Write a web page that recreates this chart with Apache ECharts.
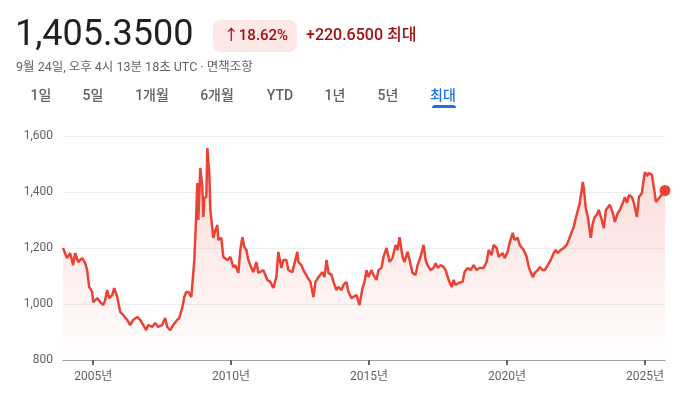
<!DOCTYPE html>
<html>
<head>
<meta charset="utf-8">
<script src="https://cdn.jsdelivr.net/npm/echarts@6/dist/echarts.min.js"></script>
<style>
html,body{margin:0;padding:0;background:#fff;}
#c{width:692px;height:396px;}
</style>
</head>
<body>
<div id="c"></div>
<script>
// ---- data ----
const dates = [
'2003-11-28','2004-01-20','2004-03-01','2004-04-10','2004-05-07','2004-06-16','2004-08-08','2004-09-17','2004-10-13','2004-11-08',
'2004-12-18','2005-01-01','2005-02-23','2005-04-04','2005-05-13','2005-06-09','2005-07-05','2005-08-01','2005-09-10','2005-10-06',
'2005-11-15','2005-12-25','2006-02-02','2006-03-27','2006-05-05','2006-06-14','2006-08-06','2006-09-15','2006-10-25','2006-12-04',
'2006-12-30','2007-02-21','2007-04-02','2007-05-11','2007-07-03','2007-08-12','2007-09-08','2007-10-18','2007-11-26','2008-01-18',
'2008-02-14','2008-03-25','2008-04-21','2008-05-17','2008-06-13','2008-07-23','2008-08-18','2008-09-01','2008-09-27','2008-10-10',
'2008-10-24','2008-11-19','2008-12-16','2008-12-29','2009-01-11','2009-02-07','2009-02-20','2009-03-18','2009-04-01','2009-04-27',
'2009-05-10','2009-06-06','2009-07-02','2009-07-15','2009-08-24','2009-09-20','2009-10-16','2009-11-12','2009-12-22','2010-01-30',
'2010-02-26','2010-04-07','2010-05-03','2010-05-30','2010-06-25','2010-07-22','2010-08-17','2010-09-26','2010-10-23','2010-12-01',
'2010-12-28','2011-01-23','2011-03-04','2011-04-26','2011-06-04','2011-07-14','2011-08-23','2011-09-18','2011-10-28','2011-11-23',
'2012-01-02','2012-01-29','2012-03-22','2012-04-17','2012-05-27','2012-06-10','2012-07-19','2012-08-15','2012-10-07','2012-11-16',
'2012-12-26','2013-01-22','2013-03-03','2013-04-25','2013-05-21','2013-06-17','2013-07-13','2013-08-22','2013-09-17','2013-10-27',
'2013-11-22','2014-01-01','2014-01-28','2014-03-08','2014-04-04','2014-05-14','2014-06-09','2014-07-19','2014-08-28','2014-10-07',
'2014-11-02','2014-11-29','2014-12-25','2015-02-03','2015-03-01','2015-04-10','2015-05-07','2015-06-15','2015-07-12','2015-08-21',
'2015-09-16','2015-09-29','2015-11-08','2015-12-18','2016-01-13','2016-02-09','2016-03-20','2016-04-15','2016-05-25','2016-06-21',
'2016-07-30','2016-09-08','2016-10-05','2016-11-13','2016-12-23','2017-01-19','2017-02-14','2017-03-26','2017-05-05','2017-06-01',
'2017-06-27','2017-08-06','2017-09-15','2017-10-11','2017-11-20','2017-12-30','2018-01-25','2018-02-21','2018-04-01','2018-05-23',
'2018-06-19','2018-07-29','2018-09-07','2018-10-17','2018-11-26','2019-01-04','2019-02-26','2019-04-07','2019-05-04','2019-06-12',
'2019-07-09','2019-08-18','2019-09-13','2019-11-05','2019-12-01','2020-01-10','2020-02-06','2020-03-17','2020-04-12','2020-05-22',
'2020-06-18','2020-07-01','2020-08-10','2020-09-19','2020-10-16','2020-12-08','2021-01-03','2021-02-12','2021-03-11','2021-04-19',
'2021-05-16','2021-06-24','2021-08-03','2021-09-12','2021-10-09','2021-11-04','2021-12-14','2022-01-22','2022-03-03','2022-03-30',
'2022-05-08','2022-06-04','2022-07-01','2022-07-27','2022-08-23','2022-10-02','2022-10-15','2022-11-10','2022-12-07','2023-01-15',
'2023-02-11','2023-03-09','2023-04-05','2023-05-01','2023-06-10','2023-07-07','2023-08-03','2023-08-29','2023-09-25','2023-11-03',
'2023-11-30','2024-01-08','2024-02-04','2024-03-15','2024-04-10','2024-05-07','2024-06-03','2024-07-12','2024-08-08','2024-09-17',
'2024-10-14','2024-11-22','2024-12-19','2025-01-01','2025-01-27','2025-02-23','2025-04-04','2025-05-01','2025-05-27','2025-06-22',
'2025-07-19','2025-08-27','2025-09-24'
];
const values = [
1200,1164,1182,1139,1182,1150,1164,1146,1121,1061,
1043,1007,1021,1007,996,1014,1050,1021,1032,1057,
1025,971,961,943,925,943,954,943,925,907,
925,918,932,918,925,950,918,907,925,943,
950,986,1025,1043,1043,1025,1111,1157,1325,1432,
1300,1486,1418,1311,1379,1382,1557,1468,1336,1329,
1236,1264,1282,1229,1236,1168,1175,1157,1168,1132,
1139,1111,1193,1239,1204,1193,1157,1129,1114,1150,
1111,1114,1121,1086,1079,1057,1096,1186,1129,1157,
1157,1121,1114,1121,1186,1150,1139,1121,1096,1079,
1025,1079,1096,1114,1096,1157,1111,1104,1079,1050,
1061,1050,1068,1079,1043,1021,1021,1032,996,1057,
1079,1121,1096,1121,1104,1086,1121,1129,1168,1200,
1168,1150,1164,1211,1193,1239,1168,1150,1186,1157,
1111,1104,1139,1168,1211,1157,1139,1121,1129,1146,
1129,1139,1132,1121,1086,1061,1086,1068,1075,1079,
1114,1129,1121,1139,1121,1129,1129,1150,1193,1175,
1211,1200,1168,1182,1164,1186,1218,1254,1229,1236,
1211,1204,1193,1168,1132,1096,1111,1121,1132,1121,
1121,1139,1157,1182,1193,1182,1193,1200,1211,1229,
1257,1275,1307,1311,1361,1436,1414,1343,1311,1236,
1289,1311,1318,1336,1300,1271,1336,1343,1354,1325,
1293,1325,1336,1361,1382,1361,1389,1382,1361,1311,
1382,1396,1450,1471,1457,1468,1461,1414,1364,1364,
1382,1396,1405.35
];
const yTicks = [800, 1000, 1200, 1400, 1600];
const yearTicks = [2005, 2010, 2015, 2020, 2025];
const headerPrice = '1,405.3500';
const headerPct = '↑18.62%';
const headerChange = '+220.6500 최대';
const subtitle = '9월 24일, 오후 4시 13분 18초 UTC · 면책조항';
const tabs = ['1일','5일','1개월','6개월','YTD','1년','5년','최대'];

// ---- chart ----
const FONT = 'Roboto, "Noto Sans CJK KR", sans-serif';
const RED = '#ea4335';
const toTs = s => { const p = s.split('-').map(Number); return Date.UTC(p[0], p[1] - 1, p[2]); };
const chart = echarts.init(document.getElementById('c'), null, {renderer: 'canvas'});
const seriesData = dates.map((d, i) => [toTs(d), values[i]]);
const last = seriesData[seriesData.length - 1];
const yearTs = yearTicks.map(y => Date.UTC(y, 0, 1));

const tabX = [41, 93, 152, 217, 280, 335, 388, 443];
const graphics = [
  {type: 'text', left: 15, top: 18, style: {text: headerPrice, font: '400 36px ' + FONT, fill: '#202124'}},
  {type: 'rect', shape: {x: 213, y: 20, width: 84, height: 32, r: 8}, style: {fill: '#fce8e6'}},
  {type: 'text', x: 256, y: 36, style: {text: headerPct, font: '500 15px ' + FONT, fill: '#a50e0e', align: 'center', verticalAlign: 'middle'}},
  {type: 'text', x: 306, y: 36, style: {text: headerChange, font: '500 16px ' + FONT, fill: '#a50e0e', align: 'left', verticalAlign: 'middle'}},
  {type: 'text', x: 16, y: 68, style: {text: subtitle, font: '400 12.5px ' + FONT, fill: '#5f6368', align: 'left', verticalAlign: 'middle'}},
  {type: 'rect', shape: {x: 432, y: 105, width: 24, height: 3, r: [3, 3, 0, 0]}, style: {fill: '#1a73e8'}}
];
tabs.forEach((t, i) => {
  const active = i === tabs.length - 1;
  graphics.push({type: 'text', x: tabX[i], y: 96, style: {
    text: t, font: '500 14px ' + FONT, fill: active ? '#1a73e8' : '#5f6368',
    align: 'center', verticalAlign: 'middle'}});
});

chart.setOption({
  animation: false,
  backgroundColor: '#fff',
  grid: {left: 63, right: 27, top: 136, bottom: 36, containLabel: false},
  xAxis: {
    type: 'value',
    min: toTs(dates[0]),
    max: toTs(dates[dates.length - 1]),
    scale: true,
    axisLine: {show: true, lineStyle: {color: '#9aa0a6', width: 1}},
    axisTick: {show: true, length: 5, lineStyle: {color: '#5f6368', width: 2}, customValues: yearTs},
    axisLabel: {
      customValues: yearTs,
      formatter: v => new Date(v).getUTCFullYear() + '년',
      color: '#5f6368', fontSize: 12, fontFamily: FONT, margin: 11
    },
    splitLine: {show: false}
  },
  yAxis: {
    type: 'value',
    min: yTicks[0], max: yTicks[yTicks.length - 1], interval: 200,
    axisLine: {show: false}, axisTick: {show: false},
    axisLabel: {formatter: v => v.toLocaleString('en-US'), color: '#5f6368', fontSize: 12, fontFamily: FONT, margin: 10},
    splitLine: {show: true, lineStyle: {color: '#eceef0', width: 1}}
  },
  series: [
    {
      type: 'line', data: seriesData, showSymbol: false, symbol: 'none',
      lineStyle: {color: RED, width: 2.5},
      areaStyle: {color: new echarts.graphic.LinearGradient(0, 0, 0, 1, [
        {offset: 0, color: 'rgba(234,67,53,0.3)'},
        {offset: 1, color: 'rgba(234,67,53,0)'}
      ])},
      z: 2
    },
    {
      type: 'scatter', data: [last], symbol: 'circle', symbolSize: 11,
      itemStyle: {color: RED, opacity: 1}, z: 3
    }
  ],
  graphic: graphics
});
</script>
</body>
</html>
